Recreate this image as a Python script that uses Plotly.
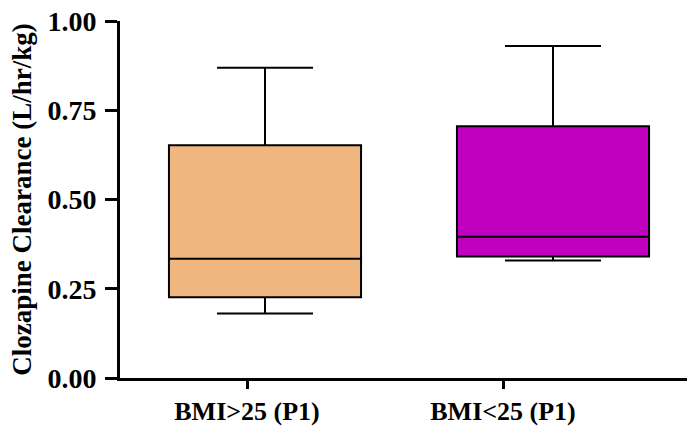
import plotly.graph_objects as go

categories = ["BMI>25 (P1)", "BMI<25 (P1)"]
q1 = [0.226, 0.340]
median = [0.334, 0.396]
q3 = [0.652, 0.705]
lower = [0.181, 0.329]
upper = [0.869, 0.930]
colors = ["#F0B67F", "#BF00BF"]
yticks = [0.0, 0.25, 0.5, 0.75, 1.0]

FONT = "Liberation Serif"

fig = go.Figure()
for i, c in enumerate(categories):
    fig.add_trace(go.Box(
        x=[c], q1=[q1[i]], median=[median[i]], q3=[q3[i]],
        lowerfence=[lower[i]], upperfence=[upper[i]],
        fillcolor=colors[i], line=dict(color="black", width=2),
        width=0.667, whiskerwidth=0.5, boxpoints=False,
        showlegend=False, xaxis="x", yaxis="y", hoverinfo="skip",
    ))
# invisible trace to carry the category tick axis
fig.add_trace(go.Scatter(x=categories, y=[0, 0], mode="markers",
                         marker=dict(opacity=0), xaxis="x2", yaxis="y",
                         showlegend=False, hoverinfo="skip"))

L, R = 120, 687
fig.update_layout(
    width=687, height=427,
    margin=dict(l=L, r=0, t=21, b=49),
    plot_bgcolor="white", paper_bgcolor="white",
    font=dict(family=FONT, color="black"),
    xaxis=dict(type="category", categoryorder="array", categoryarray=categories,
               range=[(L - 265) / 288, (R - 265) / 288],
               visible=False),
    xaxis2=dict(type="category", categoryorder="array", categoryarray=categories,
                overlaying="x", anchor="y",
                range=[(L - 247) / 256, (R - 247) / 256],
                showline=True, linecolor="black", linewidth=3,
                ticks="outside", ticklen=8, tickwidth=3, tickcolor="black",
                tickfont=dict(family=FONT, size=26, color="black", weight="bold"),
                ticklabelstandoff=0,
                showgrid=False, zeroline=False),
    yaxis=dict(range=[0, 1.0], tickvals=yticks, tickformat=".2f",
               showline=True, linecolor="black", linewidth=3,
               ticks="outside", ticklen=12, tickwidth=3, tickcolor="black",
               tickfont=dict(family=FONT, size=28, color="black", weight="bold"),
               ticklabelstandoff=3,
               showgrid=False, zeroline=False,
               title=dict(text="Clozapine Clearance (L/hr/kg)",
                          font=dict(family=FONT, size=27, color="black", weight="bold"),
                          standoff=8)),
)
fig.write_html("out.html")
